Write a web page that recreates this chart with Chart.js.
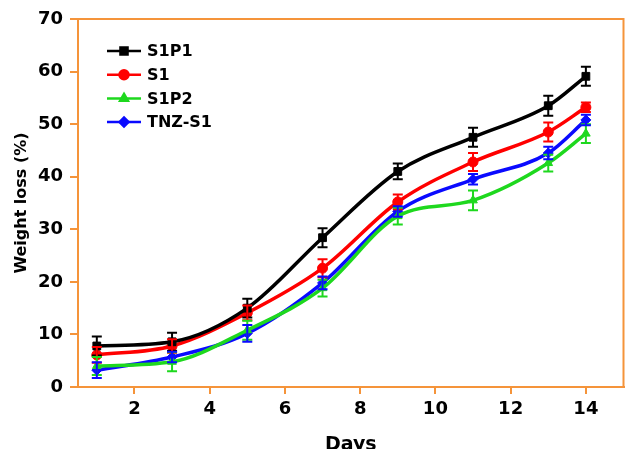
<!DOCTYPE html>
<html>
<head>
<meta charset="utf-8">
<script src="https://cdn.jsdelivr.net/npm/chart.js@4.4.0/dist/chart.umd.min.js"></script>
<style>
  html, body { margin: 0; padding: 0; overflow: hidden; background: #fff; }
  #wrap { width: 630px; height: 456px; }
</style>
</head>
<body>
<div id="wrap"><canvas id="lossChart"></canvas></div>
<script>
const days = [1, 3, 5, 7, 9, 11, 13, 14];
const dayTicks = [2, 4, 6, 8, 10, 12, 14];

const seriesNames = ['S1P1', 'S1', 'S1P2', 'TNZ-S1'];
const s1p1Loss = [7.8, 8.6, 15.0, 28.4, 41.0, 47.5, 53.5, 59.1];
const s1Loss = [6.1, 7.8, 14.1, 22.6, 35.2, 42.8, 48.5, 53.2];
const s1p2Loss = [4.0, 4.8, 10.8, 18.8, 32.5, 35.5, 42.6, 48.2];
const tnzLoss = [3.2, 5.7, 10.2, 19.8, 33.4, 39.5, 44.5, 50.8];

const s1p1Err = [1.8, 1.7, 1.8, 1.8, 1.5, 1.8, 1.9, 1.8];
const s1Err = [1.5, 1.3, 1.4, 1.7, 1.4, 1.7, 1.8, 0.9];
const s1p2Err = [1.7, 1.8, 1.8, 1.6, 1.6, 1.9, 1.6, 1.8];
const tnzErr = [1.5, 1.0, 1.6, 1.2, 1.0, 1.0, 1.2, 1.0];

const axisColor = '#f5943a';
const boldFont = 'DejaVu Sans';

function makeSet(label, values, errors, color, style) {
    return {
        label: label,
        data: values.map((v, i) => ({ x: days[i], y: v })),
        errors: errors,
        borderColor: color,
        backgroundColor: color,
        borderWidth: 3.5,
        pointStyle: style,
        pointRadius: style === 'rect' ? 5.5 : 5,
        pointBorderWidth: 1,
        cubicInterpolationMode: 'monotone'
    };
}

// error bars, drawn on top of each series
const errorBars = {
    id: 'errorBars',
    afterDatasetsDraw(chart) {
        const ctx = chart.ctx;
        const yScale = chart.scales.y;
        chart.data.datasets.forEach((ds, di) => {
            const meta = chart.getDatasetMeta(di);
            ctx.save();
            ctx.strokeStyle = ds.borderColor;
            ctx.lineWidth = 2;
            meta.data.forEach((pt, i) => {
                const v = ds.data[i].y;
                const e = ds.errors[i];
                const top = yScale.getPixelForValue(v + e);
                const bot = yScale.getPixelForValue(v - e);
                ctx.beginPath();
                ctx.moveTo(pt.x, top);
                ctx.lineTo(pt.x, bot);
                ctx.moveTo(pt.x - 5, top);
                ctx.lineTo(pt.x + 5, top);
                ctx.moveTo(pt.x - 5, bot);
                ctx.lineTo(pt.x + 5, bot);
                ctx.stroke();
            });
            ctx.restore();
        });
    }
};

// orange frame on top and right
const frame = {
    id: 'frame',
    afterDraw(chart) {
        const { ctx, chartArea } = chart;
        ctx.save();
        ctx.strokeStyle = axisColor;
        ctx.lineWidth = 2;
        ctx.beginPath();
        ctx.moveTo(chartArea.left, chartArea.top);
        ctx.lineTo(chartArea.right, chartArea.top);
        ctx.lineTo(chartArea.right, chartArea.bottom);
        ctx.stroke();
        ctx.restore();
    }
};

// legend inside the plot, line + marker + label
const insideLegend = {
    id: 'insideLegend',
    afterDraw(chart) {
        const ctx = chart.ctx;
        ctx.save();
        ctx.font = 'bold 16px ' + boldFont;
        ctx.textBaseline = 'middle';
        ctx.textAlign = 'left';
        chart.data.datasets.forEach((ds, i) => {
            const y = 51 + i * 23.7;
            ctx.strokeStyle = ds.borderColor;
            ctx.lineWidth = 2.5;
            ctx.beginPath();
            ctx.moveTo(107, y);
            ctx.lineTo(141, y);
            ctx.stroke();
            ctx.fillStyle = ds.backgroundColor;
            Chart.helpers.drawPoint(ctx, {
                pointStyle: ds.pointStyle,
                radius: ds.pointRadius - 0.5,
                rotation: 0,
                borderWidth: 1
            }, 124, y);
            ctx.fillStyle = '#000';
            ctx.fillText(ds.label, 147, y + 1);
        });
        ctx.restore();
    }
};

const ctx = document.getElementById('lossChart').getContext('2d');
const lossChart = new Chart(ctx, {
    type: 'line',
    data: {
        datasets: [
            makeSet(seriesNames[0], s1p1Loss, s1p1Err, '#000000', 'rect'),
            makeSet(seriesNames[1], s1Loss, s1Err, '#ff0000', 'circle'),
            makeSet(seriesNames[2], s1p2Loss, s1p2Err, '#1ed81e', 'triangle'),
            makeSet(seriesNames[3], tnzLoss, tnzErr, '#0a0aff', 'rectRot')
        ]
    },
    options: {
        responsive: true,
        maintainAspectRatio: false,
        animation: false,
        layout: { padding: { top: 19, right: 2, left: 0, bottom: 0 } },
        plugins: {
            legend: { display: false },
            tooltip: { enabled: false }
        },
        scales: {
            x: {
                type: 'linear',
                min: 0.5,
                max: 15,
                afterBuildTicks: scale => {
                    scale.ticks = dayTicks.map(v => ({ value: v }));
                },
                afterFit: scale => { scale.height = 69; },
                border: { color: axisColor, width: 2 },
                grid: { drawOnChartArea: false, color: axisColor, lineWidth: 2, tickLength: 7 },
                ticks: {
                    color: '#000',
                    padding: 5,
                    maxRotation: 0,
                    font: { family: boldFont, size: 18, weight: 'bold' }
                },
                title: {
                    display: true,
                    text: 'Days',
                    color: '#000',
                    padding: { top: 0, bottom: 0 },
                    font: { family: boldFont, size: 19, weight: 'bold' }
                }
            },
            y: {
                min: 0,
                max: 70,
                afterFit: scale => { scale.width = 78; },
                border: { color: axisColor, width: 2 },
                grid: { drawOnChartArea: false, color: axisColor, lineWidth: 2, tickLength: 8 },
                ticks: {
                    stepSize: 10,
                    color: '#000',
                    padding: 7,
                    font: { family: boldFont, size: 18, weight: 'bold' }
                },
                title: {
                    display: true,
                    text: 'Weight loss (%)',
                    color: '#000',
                    padding: { top: 12, bottom: 0 },
                    font: { family: boldFont, size: 16, weight: 'bold' }
                }
            }
        }
    },
    plugins: [errorBars, frame, insideLegend]
});
</script>
</body>
</html>
